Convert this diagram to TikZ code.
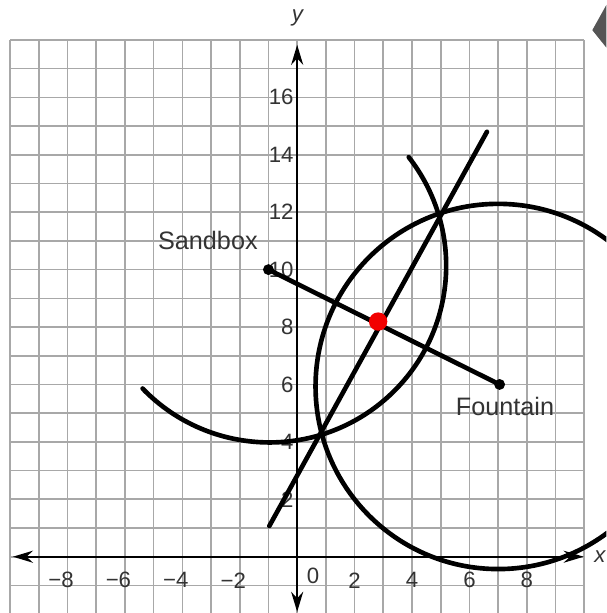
\documentclass[tikz,border=0pt]{standalone}
\usepackage{fontspec}
\setmainfont{Liberation Sans}
\usepackage{tikz}
\usetikzlibrary{arrows.meta}
\definecolor{gridgray}{HTML}{A8A8A8}
\definecolor{ink}{HTML}{333333}
\definecolor{dotred}{HTML}{F20000}
\definecolor{corner}{HTML}{555555}

\begin{document}
\begin{tikzpicture}[
  font=\fontsize{22}{26}\selectfont,
  gridline/.style={draw=gridgray, line width=1.6pt},
  axis/.style={draw=black, line width=1.8pt,
               {Stealth[length=7mm, width=4.2mm]}-{Stealth[length=7mm, width=4.2mm]}},
  curve/.style={draw=black, line width=4.6pt, line cap=round},
  dot/.style={circle, fill=black, inner sep=0pt, minimum size=3.8mm},
  middot/.style={circle, fill=dotred, inner sep=0pt, minimum size=6.4mm},
  tick/.style={text=ink, inner sep=0pt},
  place/.style={text=ink, inner sep=0pt, font=\fontsize{25}{30}\selectfont}
]
  \useasboundingbox (-10.35,-1.96) rectangle (10.77,19.39);
  \clip (-10.35,-1.96) rectangle (10.77,19.39);

  \draw[gridline] (-10,-2) grid (10,18);

  \coordinate (xl) at (-9.9,0);
  \coordinate (xr) at (9.98,0);
  \coordinate (yb) at (0,-1.92);
  \coordinate (yt) at (0,17.83);
  \draw[axis] (xl) -- (xr);
  \draw[axis] (yb) -- (yt);
  \node[tick] (xlab) at (10.56,0) {\textit{x}};
  \node[tick] (ylab) at (0.03,18.76) {\textit{y}};

  \foreach \x in {2,4,6,8} {
    \node[tick] (xn\x) at (-\x,-0.82) {\llap{−}\x};
    \node[tick] (xp\x) at (\x,-0.82) {\x};
  }
  \node[tick] (xz) at (0.55,-0.67) {0};
  \foreach \y in {2,4,...,16}
    \node[tick, anchor=east] (yt\y) at (-0.12,\y) {\y};

  \draw[curve] (7,5.93) circle (6.36);
  \draw[curve] (-0.96,10.13) ++(-136:6.15) arc (-136:38:6.15);

  \coordinate (bisA) at (-0.97,1.07);
  \coordinate (bisB) at (6.61,14.8);
  \draw[curve] (bisA) -- (bisB);

  \node[dot] (sandbox) at (-1,10) {};
  \node[dot] (fountain) at (7.05,6) {};
  \draw[curve] (sandbox) -- (fountain);
  \node[middot] (mid) at (2.82,8.19) {};

  \node[place] (sandlab) at (-3.11,11.0) {Sandbox};
  \node[place] (fountlab) at (7.24,5.25) {Fountain};

  \fill[corner] (10.28,18.34) -- (10.77,19.22) -- (10.77,17.73) -- cycle;
\end{tikzpicture}
\end{document}
